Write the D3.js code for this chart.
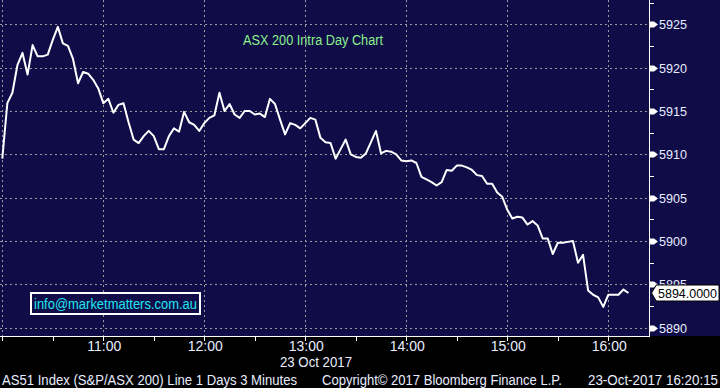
<!DOCTYPE html>
<html>
<head>
  <title>ASX 200 Intra Day Chart</title>
  <script src="https://d3js.org/d3.v7.min.js"></script>
  <style>
    body {
      margin: 0;
      background: #000;
    }
    svg {
      display: block;
      font-family: "Liberation Sans", Arial, sans-serif;
    }
  </style>
</head>
<body>
  <div id="chart"></div>

  <script>
    // 3 minute bars from 10:00, AS51 on 23 Oct 2017
    const startTime = "2017-10-23 10:00";
    const stepMinutes = 3;
    const prices = [
      5909.5, 5915.9, 5917.1, 5920.3, 5921.7, 5919.2, 5922.6, 5921.3, 5921.3, 5921.5,
      5923.2, 5924.7, 5922.8, 5922.5, 5921.0, 5918.2, 5919.5, 5919.3, 5918.6, 5917.6,
      5915.9, 5916.4, 5914.8, 5915.7, 5915.9, 5913.7, 5911.7, 5911.3, 5912.1, 5912.7,
      5912.1, 5910.6, 5910.6, 5912.1, 5913.0, 5912.6, 5914.9, 5913.7, 5913.4, 5912.7,
      5913.6, 5914.2, 5914.5, 5917.1, 5915.0, 5915.8, 5914.6, 5914.2, 5915.0, 5915.0,
      5914.6, 5914.7, 5914.3, 5916.4, 5915.8, 5914.0, 5912.3, 5913.6, 5913.4, 5913.0,
      5913.6, 5914.2, 5914.0, 5911.9, 5911.4, 5911.3, 5909.5, 5910.6, 5911.7, 5910.0,
      5909.7, 5909.6, 5910.1, 5911.4, 5912.7, 5910.1, 5910.4, 5910.3, 5910.0, 5909.3,
      5909.2, 5909.3, 5909.0, 5907.4, 5907.1, 5906.8, 5906.4, 5906.8, 5908.2, 5908.1,
      5908.7, 5908.7, 5908.5, 5908.2, 5907.6, 5907.5, 5906.6, 5906.6, 5905.6, 5905.1,
      5903.6, 5902.6, 5902.8, 5902.7, 5901.9, 5902.3, 5901.8, 5900.3, 5900.3, 5898.5,
      5899.8, 5899.8, 5899.9, 5900.0, 5897.5, 5898.4, 5894.3, 5893.8, 5893.5, 5892.4,
      5893.8, 5893.8, 5893.8, 5894.4, 5894.0
    ];
    const priceTicks = [5890, 5895, 5900, 5905, 5910, 5915, 5920, 5925];
    const hourTicks = ["10:00", "11:00", "12:00", "13:00", "14:00", "15:00", "16:00"];
    const lastLabel = "5894.0000";
    const title = "ASX 200 Intra Day Chart";
    const email = "info@marketmatters.com.au";
    const dateLabel = "23 Oct 2017";
    const footer = [
      "AS51 Index (S&P/ASX 200) Line 1 Days 3 Minutes",
      "Copyright\u00a9 2017 Bloomberg Finance L.P.",
      "23-Oct-2017 16:20:15"
    ];

    const W = 720, H = 388;
    const plotRight = 649, plotBottom = 336;
    const parse = d3.timeParse("%Y-%m-%d %H:%M");
    const t0 = parse(startTime);
    const day = "2017-10-23 ";
    const textCol = "#e8eeff";

    const data = prices.map((v, i) => ({ t: d3.timeMinute.offset(t0, i * stepMinutes), v: v }));

    const x = d3.scaleTime()
      .domain([parse(day + "10:00"), parse(day + "16:00")])
      .range([2.3, 608.3]);
    const y = d3.scaleLinear()
      .domain([5890, 5925])
      .range([327.7, 24.3]);

    const svg = d3.select("#chart").append("svg")
      .attr("width", W)
      .attr("height", H);

    svg.append("rect").attr("width", W).attr("height", H).attr("fill", "#000");
    svg.append("rect").attr("width", W).attr("height", plotBottom).attr("fill", "#100c48");

    // grid
    const hours = hourTicks.map(h => parse(day + h));
    svg.append("g")
      .selectAll("line")
      .data(hours)
      .join("line")
      .attr("x1", d => Math.round(x(d)) + 0.5)
      .attr("x2", d => Math.round(x(d)) + 0.5)
      .attr("y1", 0)
      .attr("y2", plotBottom)
      .attr("stroke", "#9a9a9a")
      .attr("stroke-dasharray", "2,3");

    svg.append("g")
      .selectAll("line")
      .data(priceTicks)
      .join("line")
      .attr("x1", 0)
      .attr("x2", plotRight)
      .attr("y1", d => Math.round(y(d)) + 0.5)
      .attr("y2", d => Math.round(y(d)) + 0.5)
      .attr("stroke", "#9a9a9a")
      .attr("stroke-dasharray", "2,3");

    // price line
    const line = d3.line().x(d => x(d.t)).y(d => y(d.v));
    svg.append("path")
      .datum(data)
      .attr("d", line)
      .attr("fill", "none")
      .attr("stroke", "#fff")
      .attr("stroke-width", 2)
      .attr("stroke-linejoin", "round");

    // right axis
    const yAxis = svg.append("g");
    yAxis.append("line")
      .attr("x1", plotRight + 0.5).attr("x2", plotRight + 0.5)
      .attr("y1", 0).attr("y2", plotBottom)
      .attr("stroke", "#fff");
    const minorY = d3.range(5890, 5928, 2.5).filter(v => v % 5 !== 0);
    yAxis.selectAll(".minor")
      .data(minorY)
      .join("line")
      .attr("x1", plotRight)
      .attr("x2", plotRight + 5)
      .attr("y1", d => Math.round(y(d)) + 0.5)
      .attr("y2", d => Math.round(y(d)) + 0.5)
      .attr("stroke", "#fff");
    yAxis.selectAll(".major")
      .data(priceTicks)
      .join("path")
      .attr("d", d => {
        const yy = Math.round(y(d)) + 0.5;
        return `M${plotRight},${yy - 3}L${plotRight + 5},${yy - 3}L${plotRight + 9},${yy}L${plotRight + 5},${yy + 3}L${plotRight},${yy + 3}Z`;
      })
      .attr("fill", "#fff");
    yAxis.selectAll("text")
      .data(priceTicks.filter(d => d !== 5895))
      .join("text")
      .attr("x", 659)
      .attr("y", d => y(d) + 5)
      .attr("fill", textCol)
      .attr("font-size", 13)
      .attr("textLength", 28)
      .attr("lengthAdjust", "spacingAndGlyphs")
      .text(d => d);

    // 5895 label mostly hidden behind the last price tag: show only its top part
    svg.append("clipPath").attr("id", "clip5895")
      .append("rect").attr("x", 655).attr("y", 270).attr("width", 60).attr("height", 16);
    yAxis.append("text")
      .attr("clip-path", "url(#clip5895)")
      .attr("x", 659)
      .attr("y", y(5895) + 5)
      .attr("fill", textCol)
      .attr("font-size", 13)
      .attr("textLength", 28)
      .attr("lengthAdjust", "spacingAndGlyphs")
      .text(5895);

    // last price tag
    const ly = y(prices[prices.length - 1]);
    svg.append("path")
      .attr("d", `M651.5,${ly}L656,${ly - 7.5}L656,${ly - 8}L719,${ly - 8}L719,${ly + 8}L656,${ly + 8}L656,${ly + 7.5}Z`)
      .attr("fill", "#fff")
      .attr("stroke", "#000")
      .attr("stroke-width", 1);
    svg.append("text")
      .attr("x", 658)
      .attr("y", ly + 5)
      .attr("font-size", 13)
      .attr("textLength", 59)
      .attr("lengthAdjust", "spacingAndGlyphs")
      .attr("fill", "#000")
      .text(lastLabel);

    // bottom axis
    const xAxis = svg.append("g");
    xAxis.append("line")
      .attr("x1", 0).attr("x2", plotRight + 1)
      .attr("y1", plotBottom + 0.5).attr("y2", plotBottom + 0.5)
      .attr("stroke", "#fff");
    const halfHours = d3.timeMinute.every(30).range(parse(day + "10:00"), parse(day + "16:20"));
    xAxis.selectAll(".tick")
      .data(halfHours)
      .join("line")
      .attr("x1", d => Math.round(x(d)) + 0.5)
      .attr("x2", d => Math.round(x(d)) + 0.5)
      .attr("y1", plotBottom)
      .attr("y2", plotBottom + 5)
      .attr("stroke", "#fff");
    xAxis.selectAll("text")
      .data(hours.slice(1))
      .join("text")
      .attr("x", d => x(d) + 1)
      .attr("y", 351)
      .attr("text-anchor", "middle")
      .attr("font-size", 14)
      .attr("fill", textCol)
      .text(d3.timeFormat("%H:%M"));
    svg.append("text")
      .attr("x", 280)
      .attr("y", 367)
      .attr("font-size", 14)
      .attr("textLength", 72)
      .attr("lengthAdjust", "spacingAndGlyphs")
      .attr("fill", textCol)
      .text(dateLabel);

    // footer
    const footerX = [2, 322, 588];
    const footerW = [295, 240, 130];
    svg.append("g")
      .selectAll("text")
      .data(footer)
      .join("text")
      .attr("x", (d, i) => footerX[i])
      .attr("y", 385)
      .attr("font-size", 14)
      .attr("textLength", (d, i) => footerW[i])
      .attr("lengthAdjust", "spacingAndGlyphs")
      .attr("fill", textCol)
      .text(d => d);

    // title
    svg.append("text")
      .attr("x", 243)
      .attr("y", 45)
      .attr("font-size", 14)
      .attr("textLength", 140)
      .attr("lengthAdjust", "spacingAndGlyphs")
      .attr("fill", "#8cf08c")
      .text(title);

    // email box
    svg.append("rect")
      .attr("x", 31).attr("y", 293)
      .attr("width", 169).attr("height", 21)
      .attr("fill", "#100c48")
      .attr("stroke", "#fff")
      .attr("stroke-width", 2);
    svg.append("text")
      .attr("x", 34)
      .attr("y", 309)
      .attr("font-size", 14)
      .attr("textLength", 163)
      .attr("lengthAdjust", "spacingAndGlyphs")
      .attr("fill", "#1ee6f0")
      .text(email);
  </script>
</body>
</html>
